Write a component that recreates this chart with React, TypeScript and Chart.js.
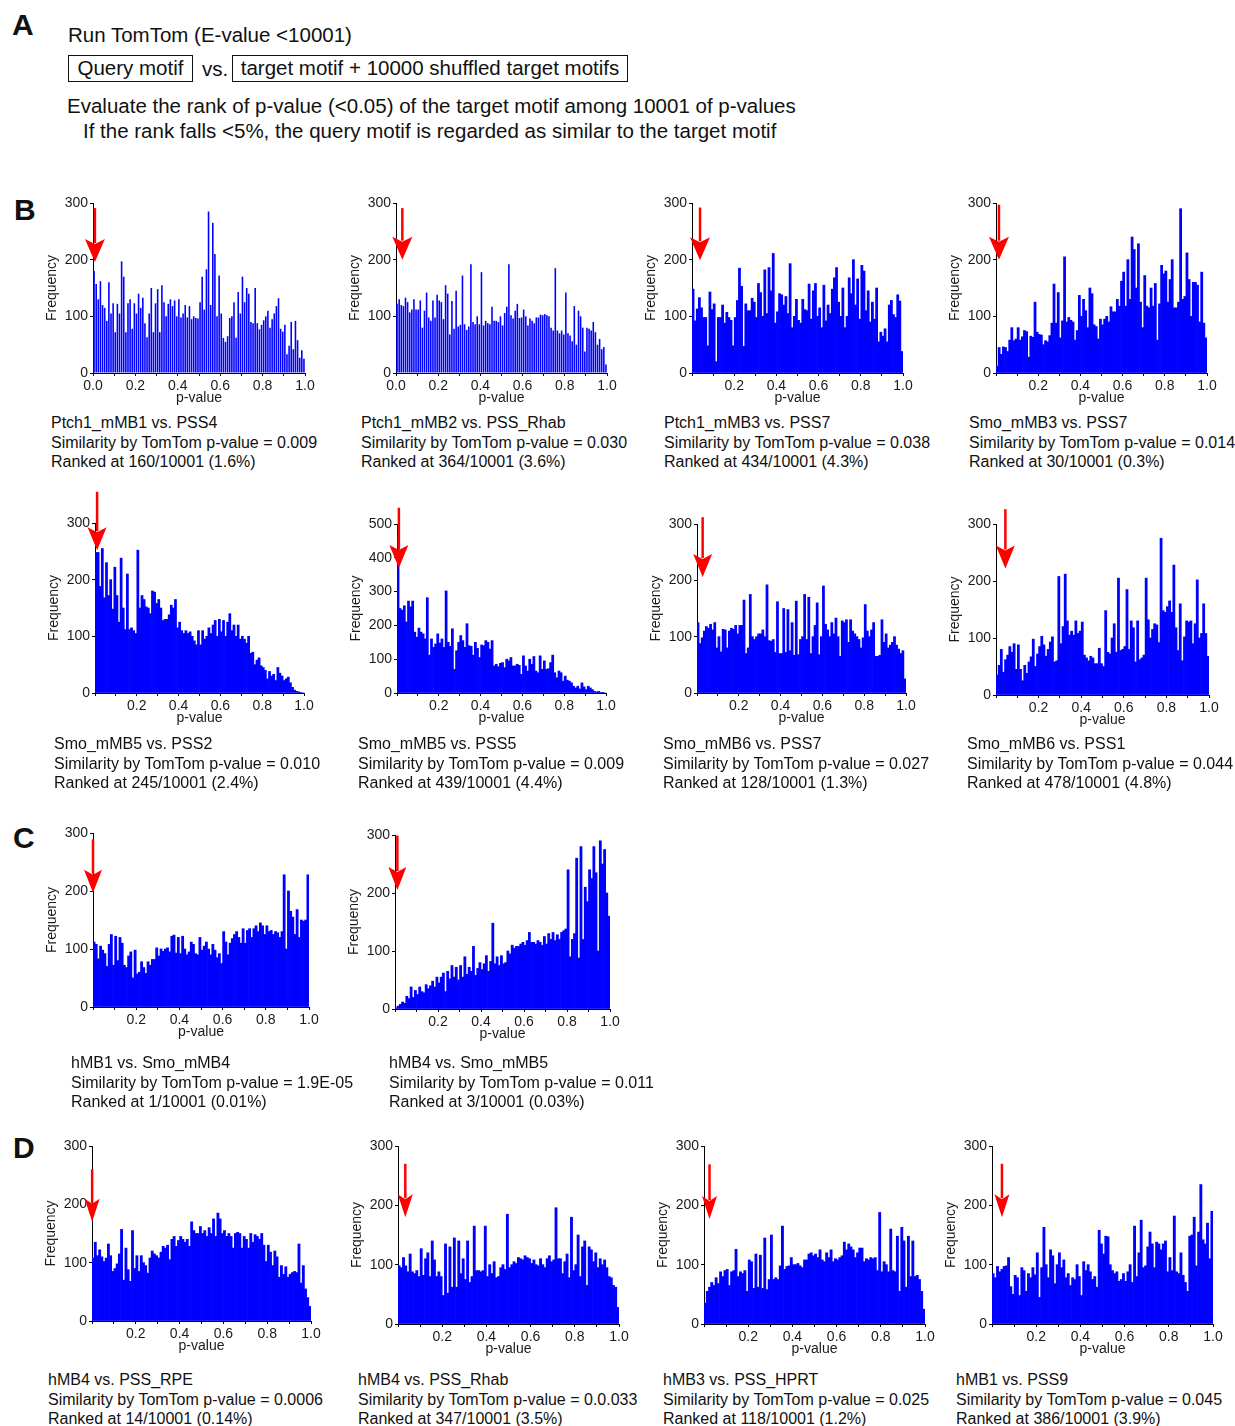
import React, { useEffect, useRef } from "react";
import { Chart, registerables } from "chart.js";

Chart.register(...registerables);

const FONT = '"Liberation Sans", Arial, Helvetica, sans-serif';

// ---------- DATA ----------
// 100 histogram bins of width 0.01 over p-value 0..1
const binCenters: number[] = Array.from({ length: 100 }, (_, i) => (i + 0.5) / 100);
const xTickLabels = ["0.0", "0.2", "0.4", "0.6", "0.8", "1.0"];

const B1_values = [
  180, 157, 130, 162, 120, 115, 92, 160, 105, 123,
  72, 122, 105, 197, 170, 72, 123, 130, 78, 123,
  105, 140, 115, 133, 88, 63, 105, 150, 72, 123,
  148, 72, 155, 125, 100, 122, 130, 118, 128, 100,
  130, 98, 105, 120, 98, 118, 95, 100, 97, 96,
  125, 170, 112, 183, 285, 120, 265, 210, 100, 172,
  105, 62, 55, 65, 97, 100, 125, 62, 143, 105,
  170, 125, 150, 140, 90, 88, 150, 88, 77, 85,
  93, 100, 110, 80, 95, 105, 118, 132, 78, 73,
  85, 33, 48, 90, 42, 92, 58, 27, 40, 25,
];
const B2_values = [
  122, 130, 120, 118, 133, 125, 107, 112, 130, 112,
  112, 128, 80, 110, 142, 98, 92, 128, 98, 138,
  128, 125, 95, 155, 140, 68, 127, 78, 145, 82,
  85, 172, 86, 76, 82, 192, 90, 86, 100, 86,
  178, 84, 92, 88, 86, 117, 92, 92, 90, 100,
  84, 106, 117, 192, 102, 96, 110, 122, 97, 98,
  112, 100, 84, 96, 92, 88, 98, 98, 103, 102,
  104, 102, 100, 80, 75, 185, 75, 70, 75, 68,
  142, 70, 66, 56, 118, 50, 110, 100, 80, 38,
  80, 78, 75, 90, 72, 50, 60, 42, 46, 15,
];
const B3_values = [
  148, 92, 113, 133, 115, 98, 98, 48, 143, 112,
  122, 20, 98, 98, 120, 88, 107, 98, 93, 48,
  98, 128, 185, 153, 47, 122, 110, 110, 132, 125,
  98, 158, 142, 100, 182, 105, 186, 145, 211, 88,
  108, 140, 138, 120, 135, 105, 193, 80, 100, 130,
  93, 88, 130, 112, 110, 157, 95, 145, 158, 100,
  115, 80, 155, 92, 120, 105, 148, 168, 186, 125,
  100, 150, 80, 100, 168, 140, 200, 120, 166, 95,
  190, 180, 110, 145, 90, 125, 95, 150, 55, 72,
  65, 78, 55, 120, 128, 103, 98, 138, 127, 38,
];
const B4_values = [
  12, 45, 33, 46, 45, 38, 58, 80, 57, 60,
  80, 58, 64, 75, 73, 28, 65, 63, 125, 72,
  68, 67, 50, 57, 55, 66, 88, 157, 88, 142,
  62, 92, 205, 90, 98, 93, 90, 58, 75, 137,
  100, 130, 110, 80, 150, 140, 85, 82, 60, 95,
  85, 95, 100, 90, 117, 108, 108, 130, 118, 162,
  178, 118, 200, 130, 240, 218, 150, 228, 125, 80,
  172, 118, 115, 150, 118, 158, 58, 122, 190, 175,
  180, 125, 165, 200, 115, 115, 125, 290, 130, 135,
  212, 165, 100, 160, 160, 155, 90, 178, 88, 62,
];
const B5_values = [
  248, 248, 188, 255, 168, 230, 172, 200, 148, 222,
  172, 125, 238, 150, 112, 210, 112, 115, 110, 105,
  252, 150, 172, 165, 152, 150, 140, 180, 178, 158,
  165, 150, 128, 130, 130, 138, 155, 150, 165, 115,
  125, 110, 105, 110, 105, 108, 100, 92, 85, 110,
  85, 110, 95, 100, 115, 105, 120, 128, 100, 130,
  108, 128, 100, 125, 140, 110, 120, 100, 120, 95,
  100, 95, 88, 100, 70, 72, 50, 58, 62, 48,
  45, 40, 25, 38, 30, 33, 22, 45, 35, 30,
  22, 25, 28, 18, 10, 5, 3, 2, 1, 0,
];
const B6_values = [
  460, 250, 245, 258, 210, 272, 255, 272, 180, 165,
  192, 180, 175, 160, 282, 112, 160, 135, 145, 175,
  148, 160, 135, 302, 150, 138, 190, 70, 125, 150,
  170, 155, 135, 205, 140, 138, 112, 150, 132, 105,
  142, 140, 155, 150, 130, 155, 80, 85, 78, 88,
  90, 75, 100, 95, 105, 80, 80, 85, 82, 55,
  110, 80, 65, 100, 85, 108, 65, 60, 110, 70,
  95, 70, 72, 90, 112, 60, 45, 65, 60, 35,
  50, 38, 35, 30, 20, 15, 20, 12, 30, 18,
  10, 20, 15, 10, 5, 3, 5, 2, 1, 0,
];
const B7_values = [
  125, 88, 98, 110, 118, 115, 122, 112, 125, 80,
  100, 73, 113, 112, 80, 110, 115, 113, 120, 105,
  120, 120, 165, 70, 80, 175, 100, 95, 100, 105,
  105, 112, 100, 192, 93, 92, 95, 72, 162, 70,
  70, 150, 72, 148, 75, 125, 67, 163, 68, 95,
  100, 175, 95, 170, 70, 100, 120, 160, 68, 100,
  190, 122, 112, 100, 125, 105, 133, 100, 65, 128,
  125, 130, 90, 130, 110, 105, 100, 95, 80, 98,
  157, 110, 100, 112, 125, 65, 65, 67, 130, 90,
  105, 80, 85, 90, 100, 85, 78, 70, 75, 25,
];
const B8_values = [
  35, 52, 80, 40, 62, 70, 85, 75, 90, 45,
  88, 45, 25, 52, 38, 58, 67, 98, 50, 72,
  85, 103, 88, 68, 80, 93, 102, 58, 60, 208,
  90, 120, 212, 130, 105, 112, 105, 130, 108, 112,
  128, 70, 65, 60, 68, 65, 55, 55, 82, 55,
  50, 148, 75, 72, 100, 125, 75, 205, 78, 80,
  85, 185, 80, 130, 118, 58, 130, 62, 65, 70,
  205, 132, 100, 115, 125, 123, 92, 275, 148, 145,
  155, 165, 145, 228, 118, 78, 160, 60, 102, 130,
  128, 130, 90, 125, 202, 100, 108, 160, 108, 68,
];
const C1_values = [
  112, 108, 83, 105, 98, 92, 70, 108, 125, 72,
  122, 80, 120, 110, 72, 68, 88, 95, 50, 98,
  57, 60, 78, 68, 58, 78, 72, 82, 82, 102,
  88, 100, 96, 100, 102, 95, 122, 124, 93, 120,
  92, 122, 100, 90, 95, 112, 108, 92, 90, 120,
  98, 105, 112, 100, 90, 108, 98, 85, 92, 75,
  130, 112, 90, 110, 118, 125, 130, 120, 110, 135,
  110, 132, 135, 120, 135, 140, 130, 145, 140, 125,
  140, 130, 132, 125, 130, 128, 120, 130, 228, 100,
  200, 165, 155, 125, 168, 120, 150, 148, 150, 228,
];
const C2_values = [
  2, 5, 8, 12, 10, 22, 18, 38, 20, 32,
  25, 38, 30, 28, 42, 35, 40, 48, 38, 55,
  45, 55, 62, 30, 65, 52, 75, 55, 72, 50,
  75, 55, 90, 60, 72, 65, 108, 58, 70, 80,
  68, 78, 92, 65, 82, 148, 78, 90, 75, 92,
  78, 80, 100, 95, 110, 105, 108, 108, 112, 115,
  110, 118, 132, 115, 115, 112, 118, 115, 110, 125,
  112, 130, 120, 132, 118, 128, 120, 132, 135, 138,
  240, 90, 120, 130, 260, 88, 280, 120, 210, 185,
  240, 225, 280, 235, 100, 290, 250, 275, 200, 160,
];
const D1_values = [
  108, 135, 112, 122, 110, 102, 108, 132, 112, 85,
  90, 98, 115, 157, 70, 125, 88, 68, 155, 90,
  112, 85, 112, 100, 95, 82, 108, 120, 115, 112,
  108, 118, 128, 125, 130, 105, 140, 145, 128, 138,
  145, 140, 135, 140, 128, 170, 155, 150, 150, 162,
  150, 155, 145, 160, 150, 175, 145, 185, 175, 150,
  155, 145, 150, 145, 125, 150, 152, 150, 125, 145,
  140, 125, 150, 135, 148, 145, 140, 150, 130, 102,
  130, 118, 95, 120, 110, 75, 95, 80, 93, 75,
  80, 83, 85, 83, 132, 65, 95, 55, 40, 25,
];
const D2_values = [
  98, 95, 112, 98, 88, 118, 88, 85, 90, 80,
  127, 82, 110, 120, 80, 140, 108, 80, 88, 80,
  48, 135, 52, 130, 62, 145, 62, 140, 85, 110,
  75, 140, 70, 80, 165, 90, 90, 88, 90, 165,
  80, 100, 85, 105, 78, 80, 95, 100, 92, 185,
  95, 100, 105, 102, 112, 110, 108, 115, 112, 110,
  102, 108, 100, 98, 110, 100, 95, 110, 115, 105,
  108, 196, 110, 110, 85, 105, 118, 78, 180, 90,
  100, 150, 80, 130, 140, 65, 130, 125, 105, 120,
  95, 110, 100, 108, 95, 80, 78, 65, 62, 28,
];
const D3_values = [
  35, 55, 62, 70, 65, 78, 68, 88, 80, 90,
  92, 65, 88, 90, 126, 80, 88, 85, 90, 55,
  108, 105, 60, 118, 62, 116, 60, 145, 58, 75,
  150, 75, 78, 75, 98, 165, 92, 97, 98, 112,
  100, 100, 102, 98, 95, 108, 108, 118, 120, 115,
  118, 112, 125, 108, 105, 120, 112, 125, 105, 110,
  108, 112, 115, 138, 125, 135, 130, 125, 112, 120,
  128, 128, 105, 110, 108, 112, 110, 112, 90, 188,
  88, 105, 100, 88, 160, 90, 88, 148, 55, 163,
  140, 62, 148, 80, 140, 80, 82, 75, 55, 25,
];
const D4_values = [
  85, 78, 97, 88, 92, 97, 98, 112, 63, 50,
  82, 78, 48, 95, 90, 55, 85, 78, 95, 83,
  120, 45, 95, 163, 100, 78, 125, 115, 68, 100,
  120, 95, 108, 78, 85, 65, 78, 75, 100, 80,
  48, 105, 90, 100, 88, 75, 80, 62, 158, 135,
  118, 148, 147, 100, 90, 85, 88, 72, 75, 85,
  72, 88, 100, 70, 165, 80, 120, 175, 95, 98,
  130, 155, 135, 95, 138, 135, 125, 135, 140, 88,
  112, 90, 182, 88, 85, 120, 82, 70, 55, 148,
  150, 180, 98, 155, 235, 142, 135, 170, 110, 190,
];

// target-motif p-values (arrow positions) and caption texts
const pValues = [0.009, 0.030, 0.038, 0.014, 0.010, 0.009, 0.027, 0.044, 1.9e-5, 0.011, 0.0006, 0.033, 0.025, 0.045];
const comparisons = [
  "Ptch1_mMB1 vs. PSS4", "Ptch1_mMB2 vs. PSS_Rhab", "Ptch1_mMB3 vs. PSS7", "Smo_mMB3 vs. PSS7",
  "Smo_mMB5 vs. PSS2", "Smo_mMB5 vs. PSS5", "Smo_mMB6 vs. PSS7", "Smo_mMB6 vs. PSS1",
  "hMB1 vs. Smo_mMB4", "hMB4 vs. Smo_mMB5",
  "hMB4 vs. PSS_RPE", "hMB4 vs. PSS_Rhab", "hMB3 vs. PSS_HPRT", "hMB1 vs. PSS9",
];
const pValueTexts = ["0.009", "0.030", "0.038", "0.014", "0.010", "0.009", "0.027", "0.044", "1.9E-05", "0.011", "0.0006", "0.0.033", "0.025", "0.045"];
const rankTexts = [
  "160/10001 (1.6%)", "364/10001 (3.6%)", "434/10001 (4.3%)", "30/10001 (0.3%)",
  "245/10001 (2.4%)", "439/10001 (4.4%)", "128/10001 (1.3%)", "478/10001 (4.8%)",
  "1/10001 (0.01%)", "3/10001 (0.03%)",
  "14/10001 (0.14%)", "347/10001 (3.5%)", "118/10001 (1.2%)", "386/10001 (3.9%)",
];
const seriesList = [B1_values, B2_values, B3_values, B4_values, B5_values, B6_values, B7_values, B8_values, C1_values, C2_values, D1_values, D2_values, D3_values, D4_values];
const yMaxList = [300, 300, 300, 300, 300, 500, 300, 300, 300, 300, 300, 300, 300, 300];

// ---------- LAYOUT (positions / styles) ----------
type Layout = { ax0: number; ax1: number; yTop: number; y0: number; capX: number; capY: number; showZero: boolean; barPct: number; aTop: number; aTip: number; headW: number };
const layouts: Layout[] = [
  { ax0: 93, ax1: 305, yTop: 203, y0: 373, capX: 51, capY: 423, showZero: true, barPct: 0.75, aTop: 291, aTip: 196, headW: 20 },
  { ax0: 396, ax1: 607, yTop: 203, y0: 373, capX: 361, capY: 423, showZero: true, barPct: 0.75, aTop: 291, aTip: 200, headW: 20 },
  { ax0: 692, ax1: 903, yTop: 203, y0: 373, capX: 664, capY: 423, showZero: false, barPct: 1, aTop: 292, aTip: 199, headW: 20 },
  { ax0: 996, ax1: 1207, yTop: 203, y0: 373, capX: 969, capY: 423, showZero: false, barPct: 1, aTop: 297, aTip: 200, headW: 20 },
  { ax0: 95, ax1: 304, yTop: 523, y0: 693, capX: 54, capY: 744, showZero: false, barPct: 1, aTop: 355, aTip: 252, headW: 19 },
  { ax0: 397, ax1: 606, yTop: 524, y0: 693, capX: 358, capY: 744, showZero: false, barPct: 1, aTop: 548, aTip: 370, headW: 19 },
  { ax0: 697, ax1: 906, yTop: 524, y0: 693, capX: 663, capY: 744, showZero: false, barPct: 1, aTop: 312, aTip: 206, headW: 19 },
  { ax0: 996, ax1: 1209, yTop: 524, y0: 695, capX: 967, capY: 744, showZero: false, barPct: 1, aTop: 326, aTip: 222, headW: 19 },
  { ax0: 93, ax1: 309, yTop: 833, y0: 1007, capX: 71, capY: 1063, showZero: false, barPct: 1, aTop: 289, aTip: 197, headW: 18 },
  { ax0: 395, ax1: 610, yTop: 835, y0: 1009, capX: 389, capY: 1063, showZero: false, barPct: 1, aTop: 299, aTip: 205, headW: 18 },
  { ax0: 92, ax1: 311, yTop: 1146, y0: 1321, capX: 48, capY: 1380, showZero: false, barPct: 1, aTop: 260, aTip: 170, headW: 15 },
  { ax0: 398, ax1: 619, yTop: 1146, y0: 1324, capX: 358, capY: 1380, showZero: false, barPct: 1, aTop: 270, aTip: 180, headW: 15 },
  { ax0: 704, ax1: 925, yTop: 1146, y0: 1324, capX: 663, capY: 1380, showZero: false, barPct: 1, aTop: 269, aTip: 177, headW: 15 },
  { ax0: 992, ax1: 1213, yTop: 1146, y0: 1324, capX: 956, capY: 1380, showZero: false, barPct: 1, aTop: 270, aTip: 180, headW: 15 },
];

const PAD_L = 60, PAD_T = 48, PAD_R = 18, PAD_B = 36;

function Histogram({ idx }: { idx: number }) {
  const ref = useRef<HTMLCanvasElement>(null);
  const L = layouts[idx];
  const w = L.ax1 - L.ax0 + PAD_L + PAD_R;
  const h = L.y0 - L.yTop + PAD_T + PAD_B;

  useEffect(() => {
    if (!ref.current) return;
    const values = seriesList[idx];
    const pv = pValues[idx];
    const arrowPlugin = {
      id: "redArrow",
      afterDatasetsDraw(chart: any) {
        const { ctx, scales } = chart;
        const x = scales.x.getPixelForValue(pv);
        const top = scales.y.getPixelForValue(L.aTop);
        const tip = scales.y.getPixelForValue(L.aTip);
        const headH = 23;
        ctx.save();
        ctx.strokeStyle = "#ff0000";
        ctx.fillStyle = "#ff0000";
        ctx.lineWidth = 2.5;
        ctx.beginPath();
        ctx.moveTo(x, top);
        ctx.lineTo(x, tip - headH + 4);
        ctx.stroke();
        ctx.beginPath();
        ctx.moveTo(x - L.headW / 2, tip - headH);
        ctx.lineTo(x, tip - headH + 5);
        ctx.lineTo(x + L.headW / 2, tip - headH);
        ctx.lineTo(x, tip);
        ctx.closePath();
        ctx.fill();
        ctx.restore();
      },
    };
    const tickFont = { family: FONT, size: 14 };
    const chart = new Chart(ref.current, {
      type: "bar",
      data: {
        datasets: [
          {
            data: values.map((v, i) => ({ x: binCenters[i], y: v })),
            backgroundColor: "#0000ff",
            borderWidth: 0,
            barPercentage: L.barPct,
            categoryPercentage: 1,
          } as any,
        ],
      },
      options: {
        responsive: false,
        animation: false,
        events: [],
        layout: { padding: { left: 0, top: PAD_T, right: PAD_R, bottom: 0 } },
        plugins: { legend: { display: false }, tooltip: { enabled: false } },
        scales: {
          x: {
            type: "linear",
            min: 0,
            max: 1,
            offset: false,
            afterFit: (s: any) => { s.height = PAD_B; },
            border: { display: true, color: "#000", width: 1 },
            grid: { display: true, drawOnChartArea: false, drawTicks: true, tickLength: 3, color: "#000", offset: false },
            ticks: {
              stepSize: 0.1,
              autoSkip: false,
              maxRotation: 0,
              padding: 2,
              color: "#1a1a1a",
              font: tickFont,
              callback: (v: any) => {
                const k = Math.round(Number(v) * 10);
                if (k % 2 === 1) return "";
                if (k === 0 && !L.showZero) return "";
                return xTickLabels[k / 2];
              },
            },
            title: { display: true, text: "p-value", color: "#1a1a1a", font: tickFont, padding: { top: 0, bottom: 2 } },
          },
          y: {
            min: 0,
            max: yMaxList[idx],
            afterFit: (s: any) => { s.width = PAD_L; },
            border: { display: true, color: "#000", width: 1 },
            grid: { display: true, drawOnChartArea: false, drawTicks: true, tickLength: 3, color: "#000" },
            ticks: { stepSize: 100, padding: 2, color: "#1a1a1a", font: tickFont },
            title: { display: true, text: "Frequency", color: "#1a1a1a", font: tickFont, padding: { top: 11, bottom: 0 } },
          },
        },
      } as any,
      plugins: [arrowPlugin],
    });
    return () => chart.destroy();
  }, [idx]);

  return (
    <canvas
      ref={ref}
      width={w}
      height={h}
      style={{ position: "absolute", left: L.ax0 - PAD_L, top: L.yTop - PAD_T, width: w, height: h }}
    />
  );
}

function Caption({ idx }: { idx: number }) {
  const L = layouts[idx];
  const lh = 19.5;
  return (
    <div
      style={{
        position: "absolute",
        left: L.capX,
        top: L.capY - lh / 2,
        fontSize: 16,
        lineHeight: lh + "px",
        color: "#111",
        whiteSpace: "nowrap",
      }}
    >
      <div>{comparisons[idx]}</div>
      <div>Similarity by TomTom p-value = {pValueTexts[idx]}</div>
      <div>Ranked at {rankTexts[idx]}</div>
    </div>
  );
}

function Text({ x, y, size, bold, children }: { x: number; y: number; size: number; bold?: boolean; children: any }) {
  return (
    <div
      style={{
        position: "absolute",
        left: x,
        top: y - size / 2,
        fontSize: size,
        lineHeight: size + "px",
        fontWeight: bold ? 700 : 400,
        whiteSpace: "nowrap",
        color: "#111",
      }}
    >
      {children}
    </div>
  );
}

export default function App() {
  return (
    <div
      style={{
        position: "absolute",
        left: 0,
        top: 0,
        width: 1235,
        height: 1426,
        background: "#fff",
        fontFamily: FONT,
        overflow: "hidden",
      }}
    >
      <Text x={12} y={25} size={30} bold>A</Text>
      <Text x={14} y={210} size={30} bold>B</Text>
      <Text x={13} y={838} size={30} bold>C</Text>
      <Text x={13} y={1148} size={30} bold>D</Text>

      <Text x={68} y={35} size={20.5}>Run TomTom (E-value &lt;10001)</Text>
      <div
        style={{
          position: "absolute", left: 68, top: 55, width: 125, height: 27, boxSizing: "border-box",
          border: "1.5px solid #111", fontSize: 20.5, lineHeight: "24px", textAlign: "center", color: "#111", whiteSpace: "nowrap",
        }}
      >
        Query motif
      </div>
      <Text x={202} y={69} size={20.5}>vs.</Text>
      <div
        style={{
          position: "absolute", left: 232, top: 55, width: 396, height: 27, boxSizing: "border-box",
          border: "1.5px solid #111", fontSize: 20.5, lineHeight: "24px", textAlign: "center", color: "#111", whiteSpace: "nowrap",
        }}
      >
        target motif + 10000 shuffled target motifs
      </div>
      <Text x={67} y={106} size={20.5}>Evaluate the rank of p-value (&lt;0.05) of the target motif among 10001 of p-values</Text>
      <Text x={83} y={131} size={20.5}>If the rank falls &lt;5%, the query motif is regarded as similar to the target motif</Text>

      {layouts.map((_, i) => (
        <Histogram key={"h" + i} idx={i} />
      ))}
      {layouts.map((_, i) => (
        <Caption key={"c" + i} idx={i} />
      ))}
    </div>
  );
}
